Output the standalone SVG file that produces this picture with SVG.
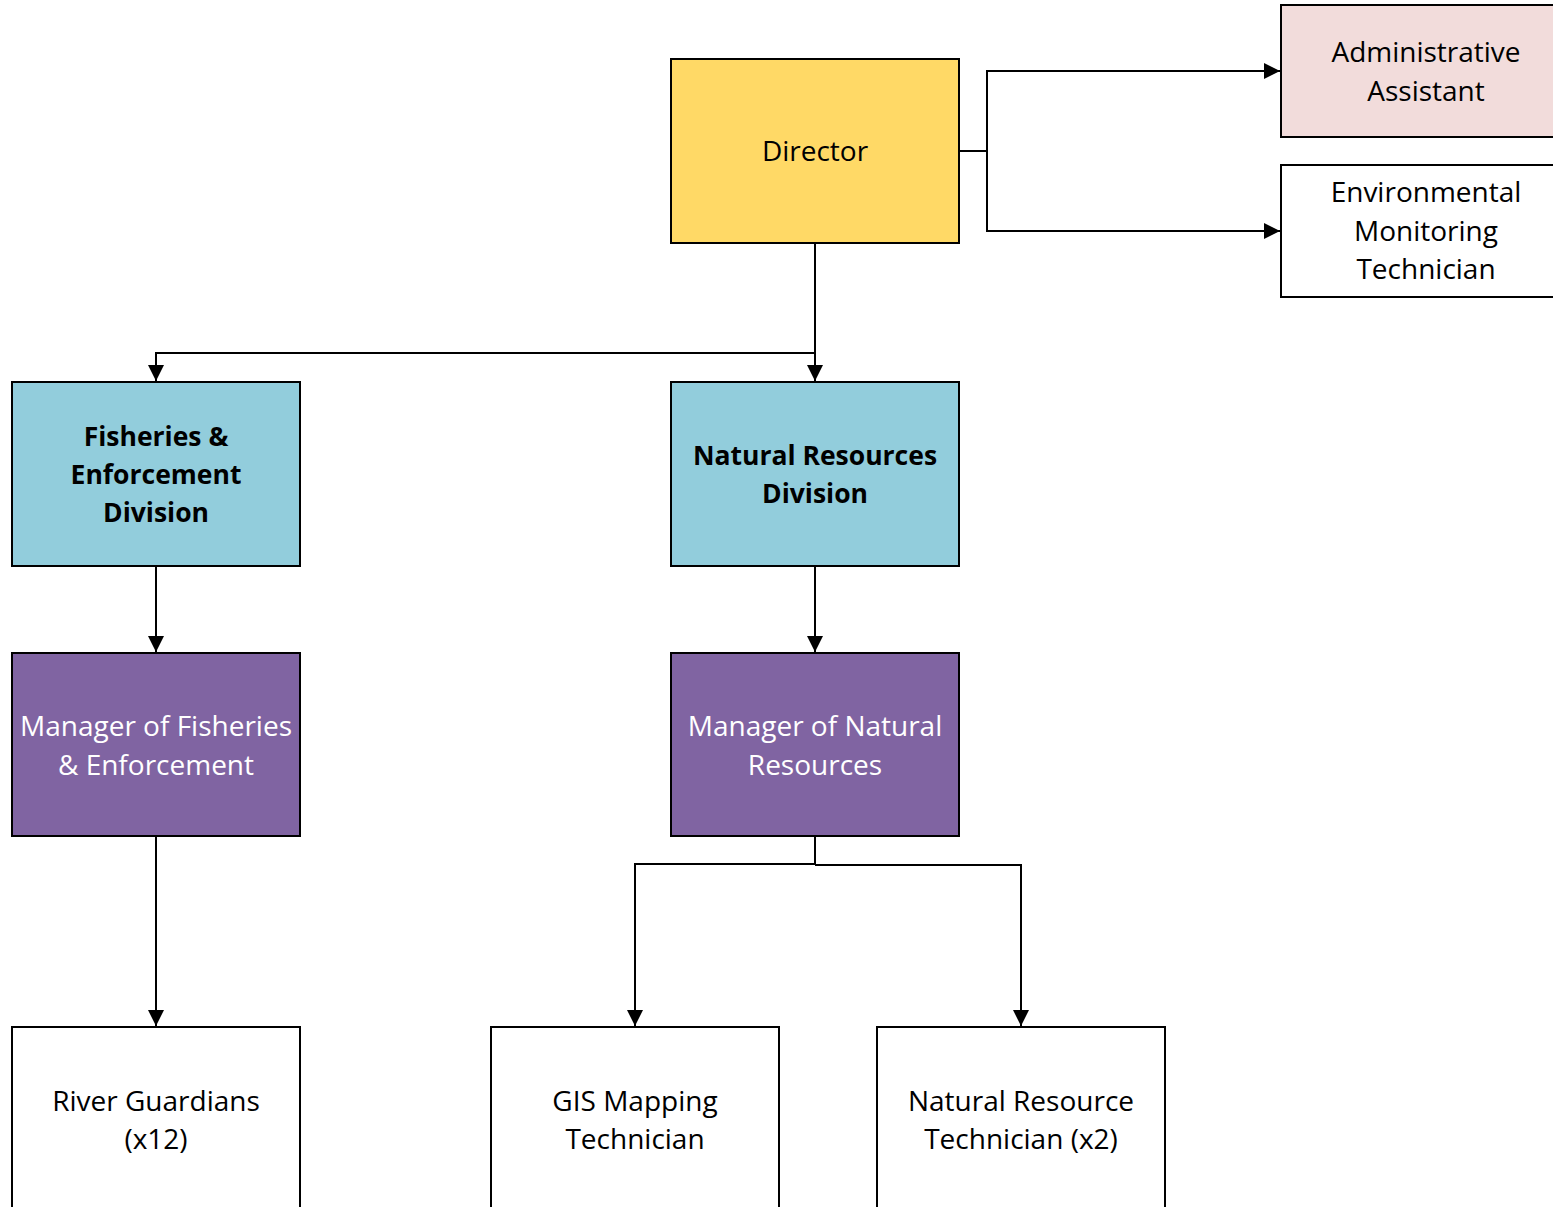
<svg xmlns="http://www.w3.org/2000/svg" width="1553" height="1207" viewBox="0 0 1553 1207">
<style>
.box{stroke:#000;stroke-width:2}
.t{font-family:"Open Sans","Liberation Sans",sans-serif;font-size:28px;text-anchor:middle;fill:#000}
.b{font-weight:bold;font-size:26.5px}
.w{fill:#fff}
.c{fill:none;stroke:#000;stroke-width:2}
</style>
<defs>
<marker id="ah" viewBox="0 0 16 16" refX="16" refY="8" markerWidth="16" markerHeight="16" markerUnits="userSpaceOnUse" orient="auto">
<path d="M0,0 L16,8 L0,16 Z" fill="#000"/>
</marker>
</defs>
<rect width="1553" height="1207" fill="#fff"/>
<g id="connectors">
<path class="c" d="M959,151 H987 V71 H1280" marker-end="url(#ah)"/>
<path class="c" d="M987,151 V231 H1280" marker-end="url(#ah)"/>
<path class="c" d="M815,243 V381" marker-end="url(#ah)"/>
<path class="c" d="M815,353 H156 V381" marker-end="url(#ah)"/>
<path class="c" d="M156,566 V652" marker-end="url(#ah)"/>
<path class="c" d="M815,566 V652" marker-end="url(#ah)"/>
<path class="c" d="M156,836 V1026" marker-end="url(#ah)"/>
<path class="c" d="M815,836 V864 H635 V1026" marker-end="url(#ah)"/>
<path class="c" d="M815,865 H1021 V1026" marker-end="url(#ah)"/>
</g>
<g id="director">
<rect class="box" x="671" y="59" width="288" height="184" fill="#FFD966"/>
<text class="t" x="815" y="161">Director</text>
</g>
<g id="admin">
<rect class="box" x="1281" y="5" width="290" height="132" fill="#F2DCDB"/>
<text class="t" x="1426" y="62">Administrative</text>
<text class="t" x="1426" y="101">Assistant</text>
</g>
<g id="envtech">
<rect class="box" x="1281" y="165" width="290" height="132" fill="#fff"/>
<text class="t" x="1426" y="202">Environmental</text>
<text class="t" x="1426" y="241">Monitoring</text>
<text class="t" x="1426" y="279">Technician</text>
</g>
<g id="fisheries">
<rect class="box" x="12" y="382" width="288" height="184" fill="#92CDDC"/>
<text class="t b" x="156" y="446">Fisheries &amp;</text>
<text class="t b" x="156" y="484">Enforcement</text>
<text class="t b" x="156" y="522">Division</text>
</g>
<g id="nrd">
<rect class="box" x="671" y="382" width="288" height="184" fill="#92CDDC"/>
<text class="t b" x="815" y="465">Natural Resources</text>
<text class="t b" x="815" y="503">Division</text>
</g>
<g id="mgrfish">
<rect class="box" x="12" y="653" width="288" height="183" fill="#8064A2"/>
<text class="t w" x="156" y="736">Manager of Fisheries</text>
<text class="t w" x="156" y="775">&amp; Enforcement</text>
</g>
<g id="mgrnr">
<rect class="box" x="671" y="653" width="288" height="183" fill="#8064A2"/>
<text class="t w" x="815" y="736">Manager of Natural</text>
<text class="t w" x="815" y="775">Resources</text>
</g>
<g id="river">
<rect class="box" x="12" y="1027" width="288" height="200" fill="#fff"/>
<text class="t" x="156" y="1111">River Guardians</text>
<text class="t" x="156" y="1149">(x12)</text>
</g>
<g id="gis">
<rect class="box" x="491" y="1027" width="288" height="200" fill="#fff"/>
<text class="t" x="635" y="1111">GIS Mapping</text>
<text class="t" x="635" y="1149">Technician</text>
</g>
<g id="nrt">
<rect class="box" x="877" y="1027" width="288" height="200" fill="#fff"/>
<text class="t" x="1021" y="1111">Natural Resource</text>
<text class="t" x="1021" y="1149">Technician (x2)</text>
</g>
</svg>
